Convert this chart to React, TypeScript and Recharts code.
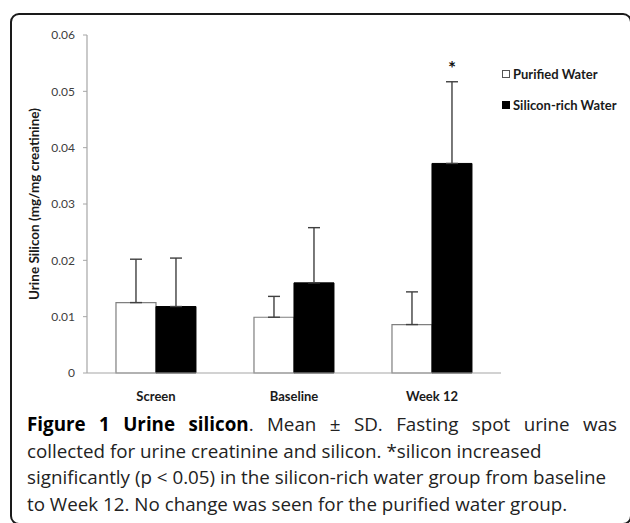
import React from 'react';
import { BarChart, Bar, XAxis, YAxis, ErrorBar, LabelList } from 'recharts';

const categories = ['Screen', 'Baseline', 'Week 12'];
const purifiedMean = [0.0125, 0.0099, 0.0086];
const purifiedSD = [0.0077, 0.0037, 0.0058];
const siliconMean = [0.0118, 0.016, 0.0372];
const siliconSD = [0.0086, 0.0098, 0.0145];
const significance = ['', '', '*'];
const yTicks = [0, 0.01, 0.02, 0.03, 0.04, 0.05, 0.06];
const seriesNames = ['Purified Water', 'Silicon-rich Water'];
const yAxisTitle = 'Urine Silicon (mg/mg creatinine)';
const captionLines = [
  'Mean \u00b1 SD. Fasting spot urine was',
  'collected for urine creatinine and silicon. *silicon increased',
  'significantly (p < 0.05) in the silicon-rich water group from baseline',
  'to Week 12. No change was seen for the purified water group.',
];
const captionTitle = 'Figure 1 Urine silicon';

const data = categories.map((c, i) => ({
  name: c,
  purified: purifiedMean[i],
  purifiedErr: [0, purifiedSD[i]],
  silicon: siliconMean[i],
  siliconErr: [0, siliconSD[i]],
  sig: significance[i],
}));

const CHART_FONT = 'Lato, "Liberation Sans", sans-serif';

const StarLabel = (props: any) => {
  const { index, value } = props;
  const vb = props.viewBox || props;
  const x = vb.x ?? props.x;
  const y = vb.y ?? props.y;
  const w = vb.width ?? props.width;
  const h = vb.height ?? props.height;
  if (!value) return null;
  const mean = siliconMean[index];
  const errTop = y - (siliconSD[index] * h) / mean;
  return (
    <text x={x + w / 2} y={errTop - 7} textAnchor="middle" fontFamily={CHART_FONT} fontWeight="bold" fontSize={19} fill="#111">
      {value}
    </text>
  );
};

const LegendBox = () => (
  <div style={{ position: 'absolute', left: 502, top: 66, fontFamily: CHART_FONT, fontWeight: 'bold', fontSize: 13, color: '#1a1a1a' }}>
    {seriesNames.map((n, i) => (
      <div key={n} style={{ display: 'flex', alignItems: 'center', height: 16, marginBottom: 15 }}>
        <div
          style={{
            width: 8,
            height: 8,
            boxSizing: 'border-box',
            border: i === 0 ? '1px solid #555' : '1px solid #000',
            background: i === 0 ? '#fff' : '#000',
          }}
        />
        <span style={{ marginLeft: 3, whiteSpace: 'nowrap' }}>{n}</span>
      </div>
    ))}
  </div>
);

export default function App() {
  return (
    <div style={{ position: 'absolute', left: 0, top: 0, width: 630, height: 523, background: '#fff', overflow: 'hidden' }}>
      <div
        style={{
          position: 'absolute',
          left: 10,
          top: 13,
          width: 622,
          height: 512,
          boxSizing: 'border-box',
          border: '2px solid #1a1a1a',
          borderRadius: 9,
        }}
      />
      <div style={{ position: 'absolute', left: 0, top: 0 }}>
        <BarChart
          width={630}
          height={523}
          data={data}
          margin={{ top: 35, right: 129, bottom: 120, left: 37 }}
          barGap={0}
          barCategoryGap="21%"
        >
          <XAxis
            dataKey="name"
            axisLine={{ stroke: '#a6a6a6', strokeWidth: 1.2 }}
            tickLine={false}
            tickSize={0}
            tickMargin={19}
            height={30}
            tick={{ fontFamily: CHART_FONT, fontWeight: 'bold', fontSize: 13, fill: '#1a1a1a' }}
          />
          <YAxis
            width={50}
            domain={[0, 0.06]}
            ticks={yTicks}
            interval={0}
            tickFormatter={(v: number) => (v === 0 ? '0' : v.toFixed(2))}
            axisLine={{ stroke: '#a6a6a6', strokeWidth: 1.2 }}
            tickLine={{ stroke: '#a6a6a6' }}
            tickSize={4}
            tickMargin={8}
            tick={{ fontFamily: CHART_FONT, fontSize: 12, fill: '#404040' }}
            label={{
              value: yAxisTitle,
              angle: -90,
              position: 'insideLeft',
              offset: -3,
              style: { textAnchor: 'middle', fontFamily: CHART_FONT, fontWeight: 'bold', fontSize: 13.5, fill: '#1a1a1a' },
            }}
          />
          <Bar dataKey="purified" name={seriesNames[0]} fill="#ffffff" stroke="#7f7f7f" strokeWidth={1.2} isAnimationActive={false}>
            <ErrorBar dataKey="purifiedErr" direction="y" width={6} stroke="#404040" strokeWidth={1.4} />
          </Bar>
          <Bar dataKey="silicon" name={seriesNames[1]} fill="#000000" stroke="#000000" strokeWidth={1} isAnimationActive={false}>
            <ErrorBar dataKey="siliconErr" direction="y" width={6} stroke="#404040" strokeWidth={1.4} />
            <LabelList dataKey="sig" content={StarLabel} />
          </Bar>
        </BarChart>
      </div>
      <LegendBox />
      <div
        style={{
          position: 'absolute',
          left: 27,
          top: 411,
          width: 590,
          fontFamily: '"Open Sans", sans-serif',
          fontSize: 18.8,
          lineHeight: '26.5px',
          color: '#222',
        }}
      >
        <div style={{ textAlign: 'justify', textAlignLast: 'justify' as any, whiteSpace: 'nowrap' }}>
          <b style={{ color: '#000' }}>{captionTitle}</b>. {captionLines[0]}
        </div>
        {captionLines.slice(1).map((l) => (
          <div key={l} style={{ whiteSpace: 'nowrap' }}>{l}</div>
        ))}
      </div>
    </div>
  );
}
